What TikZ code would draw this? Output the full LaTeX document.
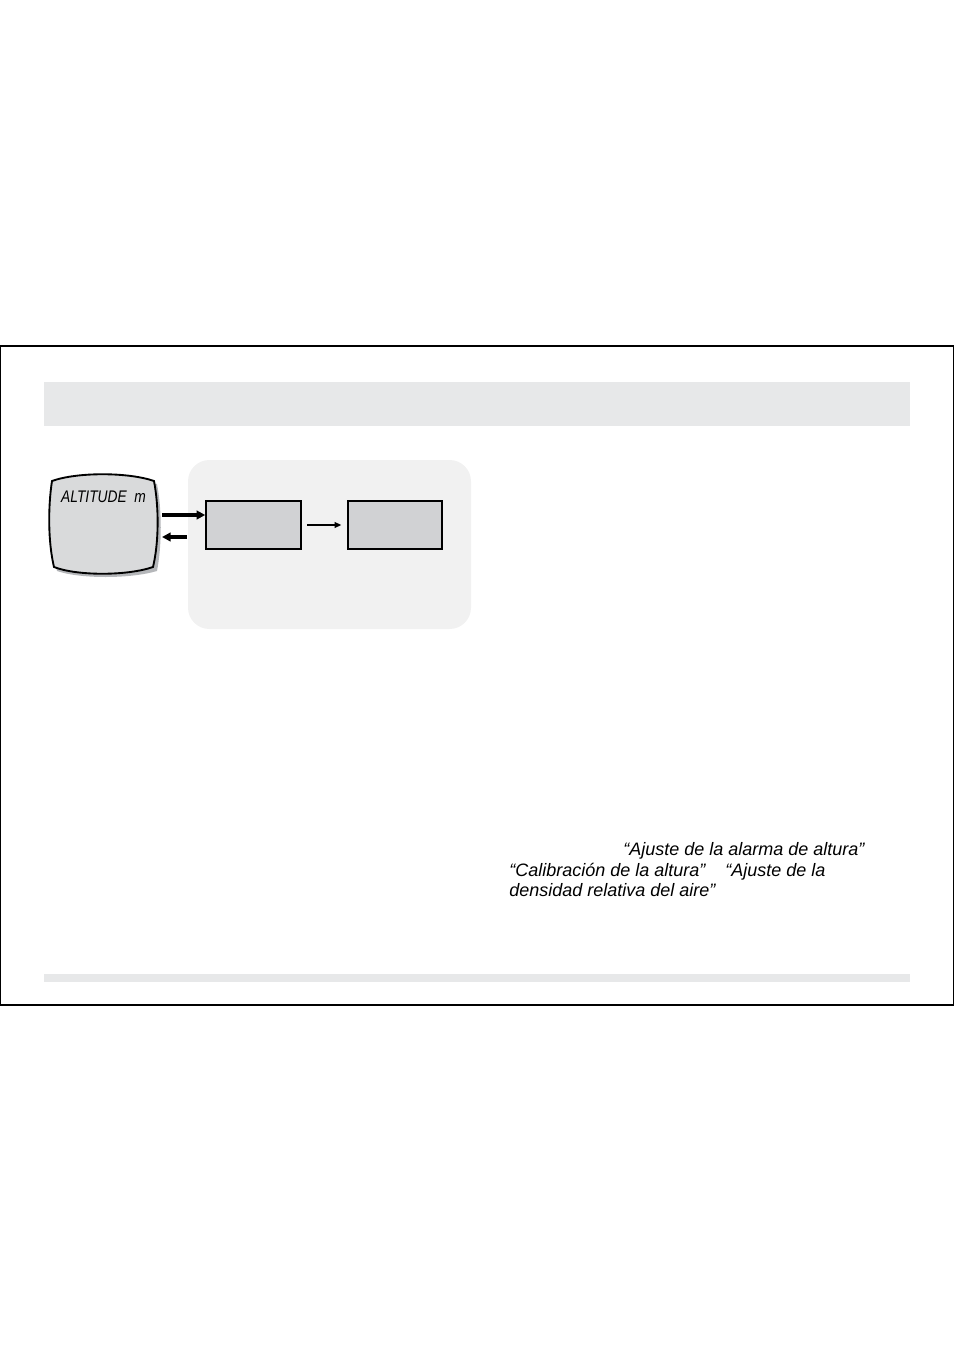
\documentclass[tikz,border=0pt]{standalone}
\usepackage{fontspec}
\setmainfont{Liberation Sans}
\usetikzlibrary{arrows.meta}
\definecolor{barcol}{HTML}{E7E8E9}
\definecolor{panelcol}{HTML}{F1F1F1}
\definecolor{boxcol}{HTML}{D1D2D4}
\definecolor{screencol}{HTML}{D9DADB}
\definecolor{shadowcol}{HTML}{B5B7BA}
\tikzset{
  modebox/.style={draw, line width=1.4pt, fill=boxcol, minimum width=71pt, minimum height=36pt, inner sep=0pt},
  thickarrow/.style={line width=3pt, -{Triangle[length=6.5pt,width=6.5pt]}},
  thinarrow/.style={line width=1.1pt, -{Triangle[length=5pt,width=4.2pt]}},
  notetext/.style={anchor=base west, inner sep=0pt, font=\fontsize{13.5}{16}\selectfont\itshape}
}
\begin{document}
\begin{tikzpicture}[x=0.75pt, y=-0.75pt]
        \useasboundingbox (0, 0) rectangle (954, 1351);
        % page frame and bars
        \draw[line width=1.1pt] (0.6, 346) rectangle (953.4, 1005);
        \fill[barcol] (44, 382) rectangle (910, 426);
        \fill[barcol] (44, 974) rectangle (910, 982);
        % panel
        \fill[panelcol, rounded corners=16pt] (188, 460) rectangle (471, 629);
        % display
        \fill[shadowcol] (55, 484) .. controls (80, 476) and (130, 476) .. (157, 484)
            .. controls (162, 510) and (162, 545) .. (157, 571)
            .. controls (130, 579) and (80, 579) .. (57, 571)
            .. controls (51, 545) and (51, 510) .. (55, 484) -- cycle;
        \draw[line width=1.4pt, fill=screencol] (52, 481) .. controls (77, 472) and (128, 472) .. (154, 481)
            .. controls (159, 507) and (159, 542) .. (153, 567)
            .. controls (127, 576) and (77, 576) .. (54, 567)
            .. controls (48, 542) and (48, 507) .. (52, 481) -- cycle;
        \node[inner sep=0pt, minimum width=108pt, minimum height=100pt] (screen) at (103, 525) {};
        \node[anchor=base west, inner sep=0pt, xscale=0.82, font=\fontsize{12.6}{14}\selectfont\itshape] (alt) at (61, 502) {ALTITUDE\ \ m};
        % modes
        \path (253.5, 525) node[modebox] (mode1) {} (395, 525) node[modebox] (mode2) {};
        \coordinate (out1) at (162, 515);
        \coordinate (in1) at (187, 537);
        \coordinate (back1) at (162, 537);
        \draw[thickarrow] (out1) -- (mode1.west |- out1);
        \draw[thickarrow] (in1) -- (back1);
        \draw[thinarrow] ([xshift=4pt]mode1.east) -- ([xshift=-4pt]mode2.west);
        % notes
        \node[notetext] (note1) at (623, 855) {“Ajuste de la alarma de altura”};
        \node[notetext] (note2) at (509, 876) {“Calibración de la altura”\ \ \ \ “Ajuste de la};
        \node[notetext] (note3) at (509, 896) {densidad relativa del aire”};
    \end{tikzpicture}
\end{document}
